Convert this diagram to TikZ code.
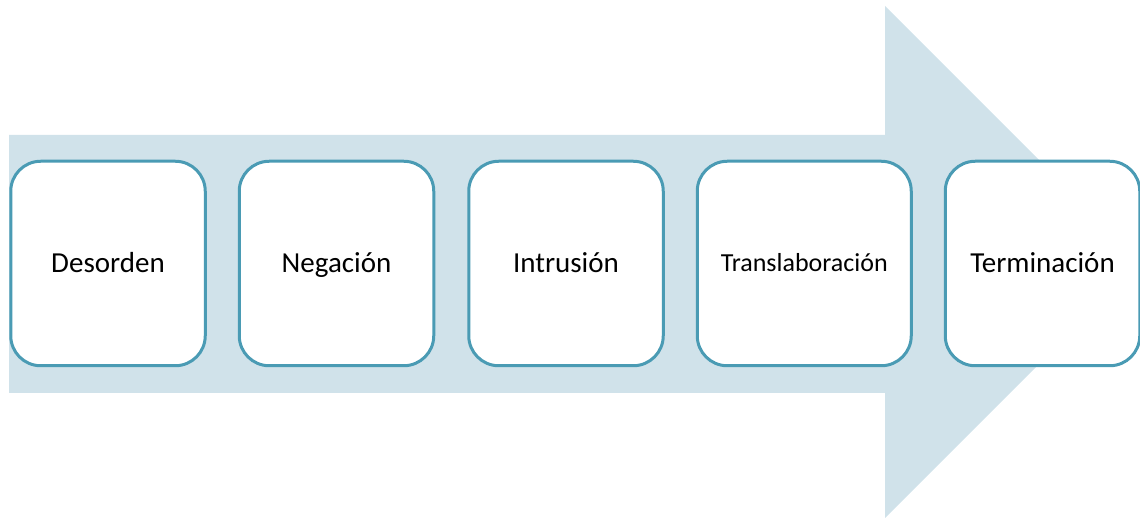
\documentclass[tikz,border=0pt]{standalone}
\usepackage{fontspec}
\setmainfont{Carlito}
\usepackage{tikz}
\usetikzlibrary{positioning}
\definecolor{arrowfill}{HTML}{D0E2EA}
\definecolor{boxline}{HTML}{4A9BB4}

\begin{document}
\begin{tikzpicture}[x=1pt,y=1pt,node distance=32pt,
  stage node/.style={rectangle,rounded corners=30pt,draw=boxline,fill=white,
    line width=3pt,minimum width=194.5pt,minimum height=204.5pt,
    text height=19pt,text depth=0pt,font=\fontsize{29}{34}\selectfont}]

  \useasboundingbox (0,0) rectangle (1140,519);

  % big arrow behind the stages
  \fill[arrowfill] (9,126) -- (885,126) -- (885,1) -- (1141,257)
    -- (885,513) -- (885,384) -- (9,384) -- cycle;

  \node[stage node] (desorden) at (108,255.5) {Desorden};
  \node[stage node] (negacion) [right=31pt of desorden] {Negación};
  \node[stage node] (intrusion) [right=32pt of negacion] {Intrusión};
  \node[stage node,minimum width=214pt,text height=17pt,
    font=\fontsize{26}{31}\selectfont] (translab) [right=31pt of intrusion] {Translaboración};
  \node[stage node] (terminacion) [right=31pt of translab] {Terminación};
\end{tikzpicture}
\end{document}
